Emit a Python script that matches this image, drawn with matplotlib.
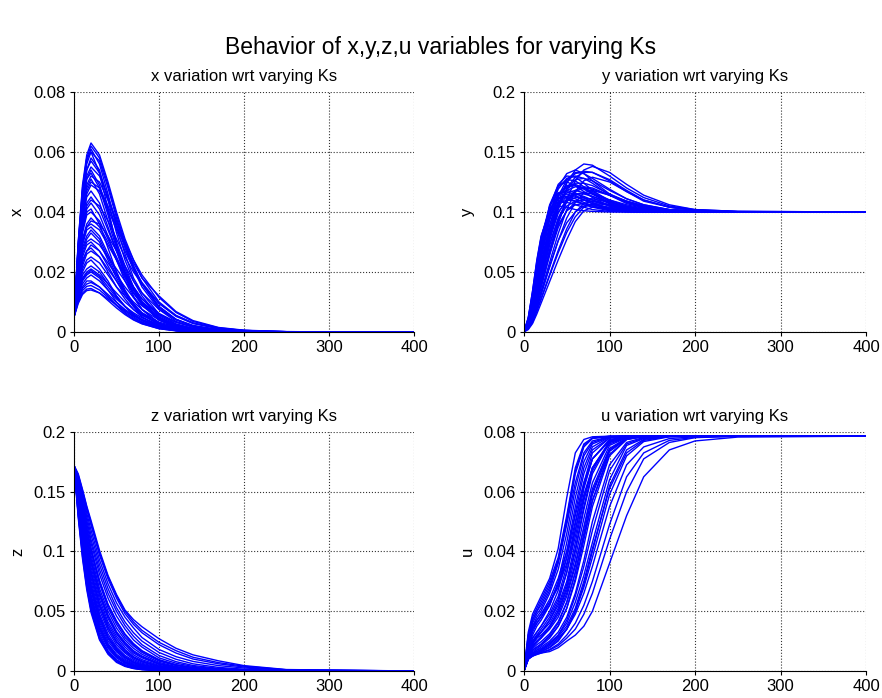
import numpy as np
import matplotlib
matplotlib.use("Agg")
import matplotlib.pyplot as plt

plt.rcParams['font.family'] = ['Liberation Sans', 'DejaVu Sans']

# sample times (same for every curve)
t = [0, 5, 10, 15, 20, 30, 40, 50, 60, 70, 80, 100, 120, 140, 170, 200, 250, 400]

# x curves, one row per Ks value
x_runs = [
    [.005, .030, .049, .059, .063, .059, .050, .040, .031, .024, .018, .010, .0055, .003, .0012, .0005, .0001, 0],
    [.005, .029, .047, .057, .061, .056, .046, .035, .026, .018, .013, .006, .0027, .0012, .0004, .0001, 0, 0],
    [.005, .030, .048, .058, .060, .053, .041, .029, .019, .012, .0075, .0028, .001, .0003, 0, 0, 0, 0],
    [.005, .027, .044, .054, .057, .053, .045, .036, .028, .021, .016, .008, .004, .002, .0007, .0002, 0, 0],
    [.005, .026, .042, .051, .054, .049, .040, .030, .022, .015, .010, .0045, .0018, .0007, .0002, 0, 0, 0],
    [.005, .024, .039, .047, .050, .048, .042, .035, .029, .023, .018, .012, .0068, .0038, .0015, .0006, .0001, 0],
    [.005, .023, .037, .045, .047, .043, .035, .027, .019, .013, .009, .004, .0016, .0006, .0002, 0, 0, 0],
    [.005, .022, .035, .042, .044, .042, .037, .031, .025, .020, .016, .0095, .0055, .003, .0012, .0005, .0001, 0],
    [.005, .022, .034, .040, .041, .036, .028, .020, .013, .0085, .005, .0017, .0005, .0001, 0, 0, 0, 0],
    [.005, .020, .031, .036, .038, .035, .030, .024, .018, .013, .0095, .0045, .002, .0009, .0003, .0001, 0, 0],
    [.005, .019, .029, .034, .035, .032, .026, .020, .014, .0095, .0063, .0026, .001, .0004, .0001, 0, 0, 0],
    [.005, .017, .026, .030, .031, .029, .025, .021, .017, .013, .010, .0058, .0032, .0017, .0007, .0002, 0, 0],
    [.005, .016, .024, .027, .028, .025, .020, .015, .011, .0075, .005, .002, .0008, .0003, .0001, 0, 0, 0],
    [.005, .015, .021, .024, .025, .023, .019, .015, .012, .0088, .0064, .0033, .0016, .0008, .0003, .0001, 0, 0],
    [.005, .013, .019, .021, .022, .020, .016, .012, .0085, .0058, .0038, .0015, .0005, .0002, 0, 0, 0, 0],
    [.005, .012, .016, .018, .019, .017, .014, .011, .0085, .0064, .0047, .0025, .0012, .0006, .0002, 0, 0, 0],
    [.005, .011, .015, .017, .017, .015, .012, .0088, .0062, .0042, .0028, .0011, .0004, .0001, 0, 0, 0, 0],
    [.005, .010, .013, .0143, .0145, .013, .0105, .008, .0058, .004, .0027, .0011, .0004, .0001, 0, 0, 0, 0],
    [.005, .0095, .0125, .0138, .014, .013, .011, .009, .007, .0053, .004, .0021, .001, .0005, .0001, 0, 0, 0],
    [.005, .028, .046, .056, .060, .057, .048, .038, .029, .021, .015, .0075, .0035, .0016, .0005, .0001, 0, 0],
    [.005, .028, .045, .054, .058, .054, .044, .033, .024, .017, .012, .005, .002, .0008, .0002, 0, 0, 0],
    [.005, .025, .040, .049, .052, .050, .044, .037, .030, .024, .019, .0115, .0065, .0035, .0014, .0005, .0001, 0],
    [.005, .025, .040, .048, .051, .046, .037, .028, .020, .014, .0095, .004, .0015, .0005, .0001, 0, 0, 0],
    [.005, .023, .036, .043, .045, .041, .034, .027, .020, .015, .011, .0055, .0025, .0011, .0003, .0001, 0, 0],
    [.005, .021, .033, .039, .040, .037, .031, .025, .019, .014, .010, .005, .0023, .001, .0003, .0001, 0, 0],
    [.005, .020, .030, .035, .036, .034, .029, .024, .019, .015, .011, .0062, .0033, .0017, .0006, .0002, 0, 0],
    [.005, .018, .027, .031, .033, .030, .024, .018, .013, .009, .006, .0025, .001, .0004, .0001, 0, 0, 0],
    [.005, .017, .025, .029, .030, .027, .022, .017, .012, .0085, .0058, .0025, .001, .0004, .0001, 0, 0, 0],
    [.005, .015, .022, .026, .027, .025, .021, .017, .013, .010, .0075, .004, .002, .001, .0003, .0001, 0, 0],
    [.005, .014, .020, .023, .024, .021, .017, .012, .0085, .0057, .0037, .0014, .0005, .0002, 0, 0, 0, 0],
    [.005, .013, .018, .020, .021, .019, .016, .013, .010, .0075, .0055, .0029, .0014, .0007, .0002, 0, 0, 0],
    [.005, .012, .017, .019, .020, .018, .014, .010, .0072, .005, .0033, .0013, .0005, .0001, 0, 0, 0, 0],
    [.005, .011, .0145, .016, .0165, .015, .0125, .0098, .0075, .0056, .0041, .0021, .001, .0005, .0001, 0, 0, 0],
    [.005, .0105, .0138, .0152, .0155, .014, .0115, .009, .0066, .0046, .0031, .0013, .0005, .0001, 0, 0, 0, 0],
    [.005, .026, .043, .052, .055, .052, .045, .037, .029, .022, .016, .0085, .0042, .002, .0007, .0002, 0, 0],
    [.005, .027, .043, .051, .053, .048, .039, .029, .021, .0145, .0098, .0043, .0017, .0006, .0002, 0, 0, 0],
    [.005, .024, .038, .046, .049, .047, .041, .034, .027, .021, .0165, .0095, .0052, .0028, .0011, .0004, 0, 0],
    [.005, .021, .034, .041, .043, .039, .032, .024, .017, .0115, .0075, .003, .0011, .0004, .0001, 0, 0, 0],
    [.005, .019, .030, .035, .037, .036, .032, .027, .022, .017, .013, .0075, .0042, .0022, .0008, .0003, 0, 0],
    [.005, .018, .028, .032, .034, .031, .025, .019, .0135, .0092, .0062, .0025, .001, .0004, .0001, 0, 0, 0],
    [.005, .016, .023, .027, .029, .027, .023, .019, .015, .0115, .0087, .0047, .0024, .0012, .0004, .0001, 0, 0],
    [.005, .0125, .0175, .0195, .0205, .0185, .015, .0115, .0085, .006, .0042, .0018, .0007, .0002, 0, 0, 0, 0],
    [.005, .029, .047, .058, .062, .058, .049, .039, .030, .022, .016, .0085, .0042, .0019, .0006, .0001, 0, 0],
]

y_runs = [
    [0, .006, .018, .034, .050, .080, .105, .124, .135, .140, .139, .130, .120, .112, .105, .102, .1005, .1],
    [0, .004, .012, .024, .037, .064, .090, .111, .126, .135, .138, .133, .123, .114, .106, .102, .1005, .1],
    [0, .008, .024, .044, .064, .098, .121, .132, .135, .132, .126, .115, .108, .104, .1015, .1005, .1, .1],
    [0, .007, .021, .039, .057, .089, .113, .127, .133, .132, .128, .119, .111, .106, .102, .1008, .1, .1],
    [0, .009, .027, .049, .070, .104, .123, .130, .129, .124, .118, .109, .104, .1015, .1004, .1, .1, .1],
    [0, .005, .016, .031, .047, .077, .102, .119, .127, .128, .126, .118, .111, .106, .102, .1008, .1, .1],
    [0, .010, .029, .052, .073, .106, .122, .125, .122, .117, .112, .105, .102, .1007, .1, .1, .1, .1],
    [0, .008, .023, .042, .061, .093, .113, .121, .122, .119, .115, .108, .104, .1017, .1005, .1, .1, .1],
    [0, .004, .013, .026, .040, .068, .092, .109, .117, .120, .119, .114, .109, .105, .102, .1008, .1, .1],
    [0, .009, .027, .049, .069, .100, .115, .118, .116, .112, .108, .103, .101, .1003, .1, .1, .1, .1],
    [0, .007, .020, .037, .055, .085, .105, .113, .115, .113, .110, .105, .102, .1008, .1, .1, .1, .1],
    [0, .011, .031, .055, .076, .103, .111, .112, .109, .106, .104, .101, .1003, .1, .1, .1, .1, .1],
    [0, .005, .016, .030, .046, .074, .094, .105, .109, .110, .109, .105, .102, .1008, .1, .1, .1, .1],
    [0, .003, .010, .020, .032, .055, .076, .091, .100, .105, .106, .103, .1012, .1004, .1, .1, .1, .1],
    [0, .012, .034, .060, .080, .101, .105, .104, .102, .101, .1005, .1, .1, .1, .1, .1, .1, .1],
    [0, .008, .025, .045, .065, .096, .111, .115, .113, .110, .107, .103, .101, .1003, .1, .1, .1, .1],
    [0, .007, .019, .036, .053, .084, .109, .125, .132, .134, .133, .126, .117, .109, .104, .1013, .1002, .1],
    [0, .006, .017, .032, .048, .078, .103, .120, .129, .133, .133, .127, .118, .110, .104, .1015, .1003, .1],
    [0, .009, .025, .046, .066, .099, .119, .128, .130, .128, .124, .114, .107, .1035, .1012, .1003, .1, .1],
    [0, .010, .028, .050, .071, .104, .121, .127, .126, .121, .115, .107, .103, .101, .1002, .1, .1, .1],
    [0, .006, .018, .034, .051, .082, .105, .119, .124, .124, .122, .115, .109, .105, .1018, .1006, .1, .1],
    [0, .008, .024, .044, .063, .096, .115, .122, .123, .120, .116, .109, .104, .1018, .1005, .1, .1, .1],
    [0, .011, .032, .057, .078, .105, .116, .117, .114, .110, .107, .102, .1006, .1001, .1, .1, .1, .1],
    [0, .005, .015, .029, .044, .072, .095, .109, .115, .116, .115, .110, .106, .103, .1012, .1004, .1, .1],
    [0, .007, .021, .039, .058, .089, .108, .116, .118, .116, .113, .107, .103, .1012, .1003, .1, .1, .1],
    [0, .004, .012, .024, .038, .065, .087, .101, .108, .111, .111, .108, .105, .1025, .1008, .1002, .1, .1],
    [0, .010, .029, .052, .073, .102, .112, .113, .111, .108, .105, .1015, .1004, .1, .1, .1, .1, .1],
    [0, .006, .018, .034, .051, .081, .100, .109, .112, .112, .110, .106, .103, .1012, .1003, .1, .1, .1],
    [0, .012, .034, .059, .079, .102, .108, .108, .106, .104, .102, .1005, .1, .1, .1, .1, .1, .1],
    [0, .009, .026, .047, .067, .096, .107, .110, .109, .107, .105, .102, .1005, .1, .1, .1, .1, .1],
    [0, .005, .014, .027, .041, .068, .089, .101, .106, .107, .106, .104, .1018, .1006, .1, .1, .1, .1],
    [0, .002, .007, .015, .024, .042, .060, .077, .092, .101, .104, .103, .101, .1004, .1, .1, .1, .1],
    [0, .003, .009, .018, .028, .048, .068, .086, .100, .107, .109, .106, .103, .101, .1002, .1, .1, .1],
    [0, .003, .010, .020, .031, .054, .076, .095, .108, .116, .118, .114, .109, .105, .1015, .1005, .1, .1],
    [0, .004, .011, .022, .034, .058, .082, .102, .117, .126, .129, .125, .117, .110, .104, .1015, .1003, .1],
    [0, .005, .014, .027, .041, .068, .092, .109, .118, .121, .120, .114, .108, .104, .101, .1004, .1, .1],
    [0, .006, .017, .032, .048, .077, .099, .111, .115, .115, .113, .108, .104, .1015, .1003, .1, .1, .1],
    [0, .007, .020, .037, .054, .086, .107, .118, .121, .120, .117, .110, .105, .102, .1005, .1, .1, .1],
    [0, .003, .008, .017, .027, .047, .066, .083, .096, .104, .107, .106, .103, .101, .1002, .1, .1, .1],
]

z_runs = [
    [.172, .165, .152, .138, .126, .101, .080, .064, .051, .043, .037, .027, .019, .0135, .0085, .0045, .0012, 0],
    [.172, .162, .148, .132, .118, .093, .073, .057, .045, .036, .028, .018, .012, .008, .0045, .0025, .0007, 0],
    [.172, .160, .143, .126, .110, .085, .065, .050, .038, .029, .022, .013, .0078, .0046, .0022, .001, .0002, 0],
    [.172, .158, .139, .120, .103, .076, .056, .042, .031, .023, .017, .0095, .0053, .003, .0013, .0005, .0001, 0],
    [.172, .155, .134, .114, .097, .069, .050, .036, .026, .019, .014, .0072, .0037, .0019, .0007, .0002, 0, 0],
    [.172, .152, .129, .108, .090, .063, .044, .031, .022, .015, .011, .0055, .0027, .0013, .0004, .0001, 0, 0],
    [.172, .149, .124, .102, .084, .057, .039, .027, .018, .012, .0085, .004, .0019, .0009, .0003, 0, 0, 0],
    [.172, .146, .119, .096, .078, .051, .034, .022, .015, .0098, .0065, .0029, .0013, .0006, .0002, 0, 0, 0],
    [.172, .143, .114, .091, .072, .046, .029, .019, .012, .0077, .005, .0021, .0009, .0004, .0001, 0, 0, 0],
    [.172, .140, .110, .086, .067, .041, .025, .016, .0098, .006, .0038, .0015, .0006, .0002, 0, 0, 0, 0],
    [.172, .137, .106, .081, .062, .037, .022, .013, .0078, .0047, .0028, .001, .0004, .0001, 0, 0, 0, 0],
    [.172, .134, .102, .076, .057, .033, .019, .011, .0062, .0036, .0021, .0007, .0002, 0, 0, 0, 0, 0],
    [.172, .131, .098, .072, .053, .029, .016, .0088, .0048, .0027, .0015, .0005, .0001, 0, 0, 0, 0, 0],
    [.172, .128, .094, .068, .049, .026, .014, .0072, .0038, .002, .0011, .0003, 0, 0, 0, 0, 0, 0],
    [.172, .140, .100, .072, .052, .028, .015, .008, .0043, .0023, .0012, .0004, .0001, 0, 0, 0, 0, 0],
    [.172, .163, .150, .135, .122, .097, .077, .061, .048, .039, .032, .022, .015, .010, .006, .0033, .0009, 0],
    [.172, .159, .141, .123, .107, .081, .061, .046, .035, .026, .020, .011, .0065, .0038, .0017, .0007, .0001, 0],
    [.172, .156, .137, .117, .100, .073, .053, .039, .028, .021, .0155, .0083, .0045, .0024, .001, .0003, 0, 0],
    [.172, .154, .131, .111, .094, .066, .047, .033, .024, .017, .0125, .0063, .0032, .0016, .0005, .0001, 0, 0],
    [.172, .150, .126, .105, .087, .060, .041, .029, .020, .0135, .0095, .0047, .0023, .0011, .0003, 0, 0, 0],
    [.172, .147, .121, .099, .081, .054, .036, .024, .016, .011, .0075, .0035, .0016, .0007, .0002, 0, 0, 0],
    [.172, .144, .116, .093, .075, .048, .031, .020, .013, .0087, .0057, .0025, .0011, .0005, .0001, 0, 0, 0],
    [.172, .141, .112, .088, .069, .043, .027, .017, .011, .0068, .0044, .0018, .0007, .0003, 0, 0, 0, 0],
    [.172, .138, .108, .083, .064, .039, .023, .014, .0088, .0053, .0033, .0012, .0005, .0001, 0, 0, 0, 0],
    [.172, .135, .104, .078, .059, .035, .020, .012, .007, .0041, .0024, .0008, .0003, 0, 0, 0, 0, 0],
    [.172, .132, .100, .074, .055, .031, .017, .0095, .0053, .003, .0017, .0006, .0001, 0, 0, 0, 0, 0],
    [.172, .130, .096, .070, .051, .027, .015, .008, .0043, .0023, .0013, .0004, 0, 0, 0, 0, 0, 0],
    [.172, .164, .151, .137, .124, .099, .079, .063, .050, .041, .034, .024, .017, .0115, .007, .004, .001, 0],
    [.172, .161, .146, .129, .114, .089, .069, .053, .041, .032, .025, .0155, .0098, .006, .003, .0015, .0003, 0],
    [.172, .157, .138, .119, .102, .075, .055, .041, .030, .022, .0165, .009, .005, .0028, .0012, .0004, 0, 0],
    [.172, .153, .130, .110, .092, .065, .046, .032, .023, .016, .0118, .006, .003, .0015, .0005, .0001, 0, 0],
    [.172, .148, .122, .100, .082, .055, .037, .025, .017, .0112, .0078, .0037, .0017, .0008, .0002, 0, 0, 0],
    [.172, .142, .113, .090, .071, .045, .028, .018, .0115, .0073, .0047, .002, .0008, .0003, 0, 0, 0, 0],
    [.172, .136, .105, .080, .061, .036, .021, .0125, .0075, .0044, .0026, .0009, .0003, 0, 0, 0, 0, 0],
]

u_runs = [
    [0, .012, .018, .021, .024, .030, .038, .052, .068, .076, .078, .0785, .0786, .0786, .0786, .0786, .0786, .0786],
    [0, .010, .016, .019, .021, .027, .036, .049, .063, .073, .077, .0784, .0786, .0786, .0786, .0786, .0786, .0786],
    [0, .008, .012, .015, .017, .022, .030, .043, .058, .070, .076, .0783, .0786, .0786, .0786, .0786, .0786, .0786],
    [0, .007, .011, .013, .015, .020, .027, .038, .053, .066, .074, .078, .0785, .0786, .0786, .0786, .0786, .0786],
    [0, .006, .009, .011, .013, .017, .023, .033, .047, .061, .071, .0775, .0784, .0786, .0786, .0786, .0786, .0786],
    [0, .006, .008, .010, .011, .015, .020, .028, .040, .054, .066, .0765, .0782, .0786, .0786, .0786, .0786, .0786],
    [0, .005, .007, .008, .009, .012, .016, .023, .033, .046, .059, .074, .0778, .0785, .0786, .0786, .0786, .0786],
    [0, .005, .006, .007, .008, .010, .013, .018, .026, .037, .050, .069, .0765, .0782, .0786, .0786, .0786, .0786],
    [0, .004, .0055, .006, .0065, .0078, .010, .014, .020, .029, .040, .062, .074, .0775, .0785, .0786, .0786, .0786],
    [0, .004, .005, .0055, .006, .0065, .0078, .010, .012, .015, .020, .036, .052, .065, .074, .077, .0783, .0786],
    [0, .009, .014, .017, .019, .024, .031, .040, .052, .063, .071, .077, .0784, .0786, .0786, .0786, .0786, .0786],
    [0, .007, .010, .012, .014, .018, .024, .033, .045, .058, .068, .076, .0782, .0786, .0786, .0786, .0786, .0786],
    [0, .005, .0065, .0075, .0085, .011, .015, .021, .030, .042, .055, .072, .0775, .0784, .0786, .0786, .0786, .0786],
    [0, .0045, .006, .0065, .007, .009, .012, .016, .023, .032, .043, .064, .0755, .0778, .0785, .0786, .0786, .0786],
    [0, .006, .0085, .010, .0115, .0145, .019, .026, .036, .048, .060, .074, .0778, .0785, .0786, .0786, .0786, .0786],
    [0, .004, .0055, .006, .0068, .0085, .011, .014, .019, .026, .035, .055, .069, .075, .0778, .0784, .0786, .0786],
    [0, .011, .017, .020, .023, .029, .037, .050, .066, .075, .0778, .0785, .0786, .0786, .0786, .0786, .0786, .0786],
    [0, .009, .015, .018, .020, .026, .034, .046, .061, .072, .0765, .0784, .0786, .0786, .0786, .0786, .0786, .0786],
    [0, .008, .013, .016, .018, .023, .029, .038, .050, .062, .071, .0772, .0784, .0786, .0786, .0786, .0786, .0786],
    [0, .007, .011, .013, .015, .019, .025, .035, .049, .063, .073, .078, .0785, .0786, .0786, .0786, .0786, .0786],
    [0, .006, .0095, .0115, .013, .017, .022, .030, .043, .057, .068, .0768, .0783, .0786, .0786, .0786, .0786, .0786],
    [0, .0055, .008, .0095, .011, .014, .018, .025, .035, .048, .061, .0745, .078, .0785, .0786, .0786, .0786, .0786],
    [0, .005, .007, .008, .009, .0115, .015, .021, .031, .044, .057, .0735, .0776, .0785, .0786, .0786, .0786, .0786],
    [0, .0045, .006, .007, .0075, .0095, .012, .017, .025, .035, .047, .067, .076, .078, .0786, .0786, .0786, .0786],
    [0, .004, .0055, .006, .0065, .008, .0105, .014, .020, .028, .038, .059, .072, .0768, .0784, .0786, .0786, .0786],
    [0, .004, .005, .0058, .0062, .0072, .009, .012, .016, .022, .030, .049, .065, .073, .0772, .0782, .0786, .0786],
    [0, .010, .015, .017, .019, .023, .028, .036, .047, .059, .068, .0765, .0782, .0786, .0786, .0786, .0786, .0786],
    [0, .0065, .009, .011, .012, .015, .020, .027, .038, .051, .063, .0755, .0781, .0786, .0786, .0786, .0786, .0786],
    [0, .013, .019, .022, .025, .031, .041, .058, .073, .0775, .0784, .0786, .0786, .0786, .0786, .0786, .0786, .0786],
    [0, .012, .017, .020, .022, .028, .037, .051, .067, .0755, .078, .0786, .0786, .0786, .0786, .0786, .0786, .0786],
    [0, .010, .014, .016, .018, .022, .029, .040, .055, .068, .075, .0783, .0786, .0786, .0786, .0786, .0786, .0786],
    [0, .0075, .010, .012, .013, .016, .021, .029, .041, .055, .067, .0768, .0784, .0786, .0786, .0786, .0786, .0786],
    [0, .0055, .0075, .0088, .0098, .0125, .0165, .023, .033, .045, .057, .0725, .0775, .0785, .0786, .0786, .0786, .0786],
    [0, .0045, .0058, .0065, .0072, .009, .0115, .015, .021, .030, .041, .061, .073, .0772, .0785, .0786, .0786, .0786],
    [0, .004, .005, .0056, .006, .007, .0085, .011, .014, .019, .026, .044, .060, .071, .0765, .0781, .0786, .0786],
]

panels = [
    (x_runs, 'x', 'x variation wrt varying Ks', [0, 0.02, 0.04, 0.06, 0.08], ['0', '0.02', '0.04', '0.06', '0.08']),
    (y_runs, 'y', 'y variation wrt varying Ks', [0, 0.05, 0.1, 0.15, 0.2], ['0', '0.05', '0.1', '0.15', '0.2']),
    (z_runs, 'z', 'z variation wrt varying Ks', [0, 0.05, 0.1, 0.15, 0.2], ['0', '0.05', '0.1', '0.15', '0.2']),
    (u_runs, 'u', 'u variation wrt varying Ks', [0, 0.02, 0.04, 0.06, 0.08], ['0', '0.02', '0.04', '0.06', '0.08']),
]

# axes boxes in figure fractions [left, bottom, width, height]
boxes = [
    [0.0839, 0.5244, 0.3855, 0.3438],
    [0.5941, 0.5244, 0.3878, 0.3438],
    [0.0839, 0.0387, 0.3855, 0.3424],
    [0.5941, 0.0387, 0.3878, 0.3424],
]

fig = plt.figure(figsize=(8.82, 6.98), dpi=100)
fig.suptitle('Behavior of x,y,z,u variables for varying Ks', fontsize=16.5, y=0.932, va='center')

for (runs, lab, ttl, yt, ytl), box in zip(panels, boxes):
    ax = fig.add_axes(box)
    for r in runs:
        ax.plot(t, r, color='#0000ff', lw=1.0)
    ax.set_xlim(0, 400)
    ax.set_ylim(yt[0], yt[-1])
    ax.set_xticks([0, 100, 200, 300, 400])
    ax.set_yticks(yt)
    ax.set_yticklabels(ytl)
    ax.grid(True, linestyle=':', color='#333333', linewidth=0.8)
    ax.spines['top'].set_visible(False)
    ax.spines['right'].set_visible(False)
    ax.tick_params(labelsize=12, length=3, direction='out', pad=3)
    ax.set_ylabel(lab, fontsize=12, labelpad=6)
    ax.set_title(ttl, fontsize=12, pad=8)

fig.savefig('out.png', dpi=100)
